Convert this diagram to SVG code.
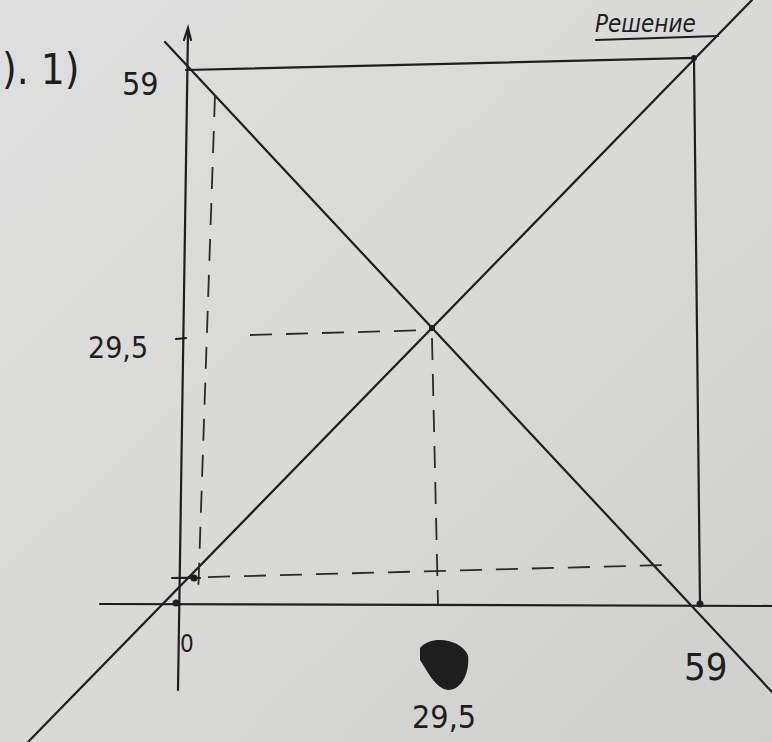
<svg xmlns="http://www.w3.org/2000/svg" width="772" height="742" viewBox="0 0 772 742">
<defs>
<linearGradient id="bg" x1="0" y1="0" x2="1" y2="1">
<stop offset="0" stop-color="#dedede"/>
<stop offset="0.5" stop-color="#d9d9d7"/>
<stop offset="1" stop-color="#cfcfcd"/>
</linearGradient>
<style>
.ln{stroke:#1e1e1e;stroke-width:2.2;fill:none;stroke-linecap:round}
.ds{stroke:#2a2a2a;stroke-width:1.8;fill:none;stroke-dasharray:22 14}
.tx{font-family:"DejaVu Sans Condensed","DejaVu Sans",sans-serif;fill:#1e1e1e;font-stretch:condensed}
</style>
</defs>
<rect width="772" height="742" fill="url(#bg)"/>
<g id="connectors">
<path class="ln" d="M178 690 L188 30"/>
<path class="ln" d="M184 40 L188 28 L191 40"/>
<path class="ln" d="M100 604 L772 606"/>
<path class="ln" d="M186 70 L694 58 L700 604"/>
<path class="ln" d="M165 42 L772 692"/>
<path class="ln" d="M28 742 L752 0"/>
<path class="ds" d="M250 335 L432 330"/>
<path class="ds" d="M432 338 L438 604"/>
<path class="ds" d="M215 95 L198 598"/>
<path class="ds" d="M172 578 L665 565"/>
<path class="ln" d="M176 339 L186 338"/>
<path class="ln" d="M172 578 L200 578"/>
</g>
<g id="points" fill="#1e1e1e">
<circle cx="176" cy="603" r="3.5"/>
<circle cx="194" cy="578" r="3.5"/>
<circle cx="432" cy="328" r="3"/>
<circle cx="694" cy="58" r="3"/>
<circle cx="700" cy="604" r="3.5"/>
<path d="M420 648 C430 635 460 638 468 655 C470 672 462 690 448 690 C435 688 428 672 420 660 Z"/>
</g>
<g id="labels">
<text class="tx" x="2" y="84" font-size="42">). 1)</text>
<text class="tx" x="122" y="95" font-size="32">59</text>
<text class="tx" x="88" y="358" font-size="30">29,5</text>
<text class="tx" x="180" y="652" font-size="24">0</text>
<text class="tx" x="684" y="680" font-size="38">59</text>
<text class="tx" x="412" y="728" font-size="32">29,5</text>
<text class="tx" x="595" y="32" font-size="24" font-style="italic">Решение</text>
<path class="ln" d="M596 40 L718 36"/>
</g>
</svg>
